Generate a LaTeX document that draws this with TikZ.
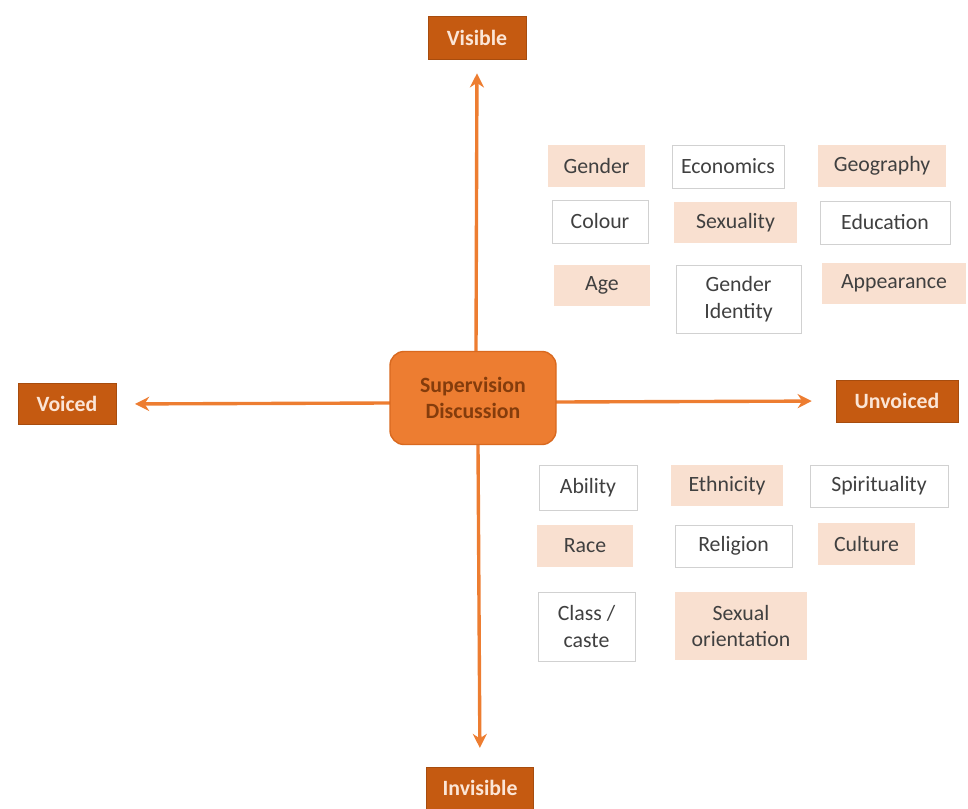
\documentclass[tikz,border=0pt]{standalone}
\usepackage{fontspec}
\setmainfont{Carlito}
\usetikzlibrary{arrows.meta}

\definecolor{axisorange}{HTML}{ED7D31}
\definecolor{hubline}{HTML}{D9691F}
\definecolor{poleorange}{HTML}{C55A11}
\definecolor{poletext}{HTML}{FBE5D6}
\definecolor{hubtext}{HTML}{843C0C}
\definecolor{peach}{HTML}{F9E0D0}
\definecolor{tagtext}{HTML}{404040}

\tikzset{
  boxw/.style={minimum width=#1*0.025cm},
  boxh/.style={minimum height=#1*0.025cm},
  pole/.style={fill=poleorange, draw=poleorange!85!black, text=poletext,
    font=\fontsize{15.5}{18}\selectfont\bfseries, inner sep=0pt},
  hub/.style={fill=axisorange, draw=hubline, line width=1pt, rounded corners=10pt,
    text=hubtext, align=center, font=\fontsize{15.5}{19}\selectfont\bfseries, inner sep=0pt},
  tag/.style={text=tagtext, align=center, inner sep=0pt,
    font=\fontsize{15.5}{19}\selectfont},
  shaded/.style={tag, fill=peach},
  plain/.style={tag, fill=white, draw=black!18, line width=0.6pt},
  axis/.style={draw=axisorange, line width=2.4pt, ->}
}

\begin{document}
\begin{tikzpicture}[x=0.025cm, y=-0.025cm, >={Stealth[length=10pt,width=10pt]}]
  \useasboundingbox (0,0) rectangle (968,809);

  % axes labels
  \node[pole, boxw=98, boxh=43] (visible) at (477,38) {Visible};
  \node[pole, boxw=107, boxh=42] (invisible) at (480,788) {Invisible};
  \node[pole, boxw=98, boxh=41] (voiced) at (67,404) {Voiced};
  \node[pole, boxw=122, boxh=42] (unvoiced) at (897,401) {Unvoiced};

  % axes
  \draw[axis, shorten >=0.34cm] (476,352) -- (visible.south);
  \draw[axis, shorten >=0.47cm] (478,445) -- (invisible.north);
  \draw[axis, shorten >=0.47cm] (390,403) -- (voiced.east);
  \draw[axis, shorten >=0.6cm] (556,402) -- (unvoiced.west);

  % centre
  \node[hub, boxw=166, boxh=93] (hub) at (473,398) {Supervision\\Discussion};

  % upper group
  \node[shaded, boxw=97, boxh=42] (gender) at (596.5,166) {Gender};
  \node[plain, boxw=112, boxh=43] (economics) at (728,166.5) {Economics};
  \node[shaded, boxw=128, boxh=42] (geography) at (882,166) {Geography};
  \node[plain, boxw=96, boxh=43] (colour) at (600,221.5) {Colour};
  \node[shaded, boxw=123, boxh=41] (sexuality) at (735.5,222.5) {Sexuality};
  \node[plain, boxw=130, boxh=43] (education) at (885,222.5) {Education};
  \node[shaded, boxw=96, boxh=41] (age) at (602,285.5) {Age};
  \node[plain, boxw=125, boxh=68] (genderid) at (738.5,299) {Gender\\Identity};
  \node[shaded, boxw=144, boxh=41] (appearance) at (894,283.5) {Appearance};

  % lower group
  \node[plain, boxw=98, boxh=45] (ability) at (588,487.5) {Ability};
  \node[shaded, boxw=112, boxh=41] (ethnicity) at (727,485.5) {Ethnicity};
  \node[plain, boxw=138, boxh=42] (spirituality) at (879,486) {Spirituality};
  \node[shaded, boxw=96, boxh=42] (race) at (585,546) {Race};
  \node[plain, boxw=117, boxh=42] (religion) at (733.5,546) {Religion};
  \node[shaded, boxw=97, boxh=42] (culture) at (866.5,544) {Culture};
  \node[plain, boxw=97, boxh=69] (classcaste) at (586.5,626.5) {Class /\\caste};
  \node[shaded, boxw=132, boxh=68] (sexorient) at (741,626) {Sexual\\orientation};
\end{tikzpicture}
\end{document}
